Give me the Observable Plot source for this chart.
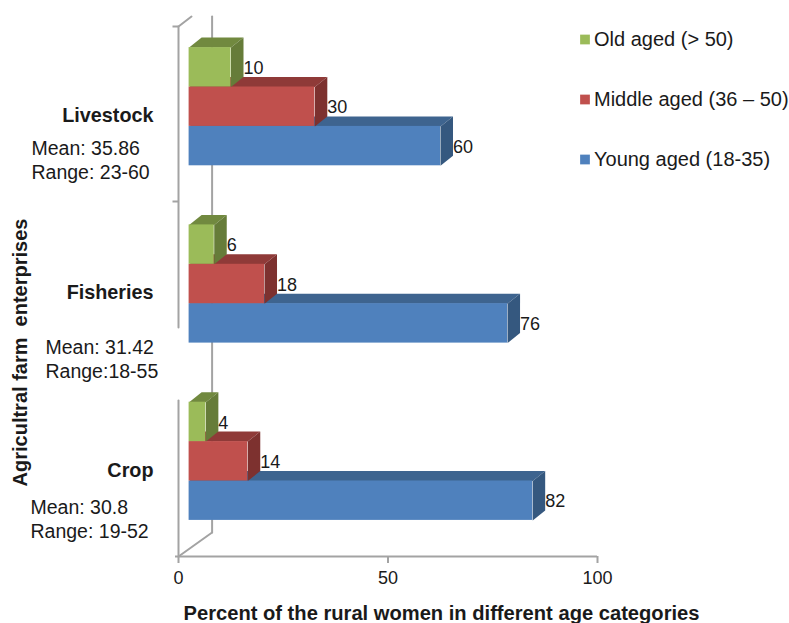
<!DOCTYPE html>
<html>
<head>
<meta charset="utf-8">
<script src="https://cdn.jsdelivr.net/npm/d3@7"></script>
<script src="https://cdn.jsdelivr.net/npm/@observablehq/plot@0.6"></script>
<style>
  html, body { margin: 0; padding: 0; background: #fff; }
  svg { display: block; }
  text { white-space: pre; }
</style>
</head>
<body>
<div id="chart"></div>
<script>
// Enterprises, bottom to top along the category axis
const categories = ["Crop", "Fisheries", "Livestock"];

// Percent of rural women per age category
const young = [82, 76, 60];
const middle = [14, 18, 30];
const old = [4, 6, 10];

// Summary notes printed under each enterprise name
const means = ["Mean: 30.8", "Mean: 31.42", "Mean: 35.86"];
const ranges = ["Range: 19-52", "Range:18-55", "Range: 23-60"];

const seriesNames = ["Young aged (18-35)", "Middle aged (36 \u2013 50)", "Old aged (> 50)"];
const xTicks = [0, 50, 100];

const font = "Liberation Sans, Arial, sans-serif";
const ink = "#1a1a1a";
const axisGrey = "#a3a3a3";

// Scale ranges of the drawing
const xPx = [178, 597];
const yPx = [460.8, 106.2];
const X = (p) => (p - xPx[0]) / (xPx[1] - xPx[0]) * 100;
const Y = (p) => (p - yPx[0]) / (yPx[1] - yPx[0]) * 2;

// Box extrusion and the inset of bars from the floor corner
const slot = 1 / 4.5;
const baseX = X(188.6);
const depthX = X(178 + 12.5);
const depthY = Y(yPx[0] - 10);

const series = [
  {name: seriesNames[0], values: young,  slotAt: 0, front: "#4f81bd", top: "#3e648f", side: "#35587f"},
  {name: seriesNames[1], values: middle, slotAt: 1, front: "#c0504d", top: "#8f3a38", side: "#7d312f"},
  {name: seriesNames[2], values: old,    slotAt: 2, front: "#9bbb59", top: "#71893f", side: "#667c39"}
];

function boxes(s) {
  const rects = s.values.map((v, i) => {
    const y1 = i - 1.5 * slot + s.slotAt * slot;
    return {x1: baseX, x2: baseX + v, y1, y2: y1 + slot, v, i};
  });
  const top = rects.flatMap((r) => [
    {id: r.i, x: r.x1, y: r.y2},
    {id: r.i, x: r.x1 + depthX, y: r.y2 + depthY},
    {id: r.i, x: r.x2 + depthX, y: r.y2 + depthY},
    {id: r.i, x: r.x2, y: r.y2}
  ]);
  const side = rects.flatMap((r) => [
    {id: r.i, x: r.x2, y: r.y1},
    {id: r.i, x: r.x2 + depthX, y: r.y1 + depthY},
    {id: r.i, x: r.x2 + depthX, y: r.y2 + depthY},
    {id: r.i, x: r.x2, y: r.y2}
  ]);
  return [
    Plot.line(top, {x: "x", y: "y", z: "id", fill: s.top, stroke: "none"}),
    Plot.line(side, {x: "x", y: "y", z: "id", fill: s.side, stroke: "none"}),
    Plot.rect(rects, {x1: "x1", x2: "x2", y1: "y1", y2: "y2", fill: s.front}),
    Plot.text(rects, {
      x: (r) => r.x2 + depthX,
      y: (r) => (r.y1 + r.y2) / 2,
      text: "v",
      textAnchor: "start",
      dy: 1,
      fontFamily: font,
      fontSize: 18,
      fill: ink
    })
  ];
}

const floorY = Y(556);
const wallTopY = Y(26);
const wallX = X(211.6);
const backFloorY = Y(532);
const clipTopY = Y(16);

const frameLine = (a, b) => Plot.line([a, b], {x: "x", y: "y", stroke: axisGrey, strokeWidth: 2});

const notes = [
  {i: 2, left: 31, mean: 148, range: 172},
  {i: 1, left: 45, mean: 347, range: 371},
  {i: 0, left: 30, mean: 507, range: 531}
];

const chart = Plot.plot({
  width: 789,
  height: 623,
  marginTop: 0,
  marginRight: 0,
  marginLeft: 0,
  marginBottom: 67,
  style: {background: "#fff", overflow: "visible"},
  x: {domain: [0, 100], range: xPx},
  y: {domain: [0, 2], range: yPx, axis: null},
  marks: [
    // Back wall edge and the floor diagonal
    frameLine({x: wallX, y: clipTopY}, {x: wallX, y: backFloorY}),
    frameLine({x: 0, y: floorY}, {x: wallX, y: backFloorY}),
    // Front category axis with its gap beside the Fisheries note
    frameLine({x: 0, y: wallTopY}, {x: 0, y: Y(327)}),
    frameLine({x: 0, y: Y(400)}, {x: 0, y: floorY}),
    frameLine({x: 0, y: wallTopY}, {x: X(191), y: clipTopY}),
    Plot.ruleY([wallTopY, Y(201)], {x1: X(172.5), x2: 0, stroke: axisGrey, strokeWidth: 2}),
    Plot.ruleY([floorY], {x1: X(175), x2: 100, stroke: axisGrey, strokeWidth: 2}),

    Plot.axisX({
      ticks: xTicks,
      tickSize: 7,
      tickPadding: 8,
      label: null,
      stroke: axisGrey,
      strokeWidth: 2,
      fontSize: 18,
      fontFamily: font,
      fill: ink
    }),

    ...series.flatMap(boxes),

    // Enterprise names
    Plot.text(categories, {
      x: 0, y: (d, i) => i, text: (d) => d, textAnchor: "end", dx: -25, dy: 9,
      fontFamily: font, fontSize: 19.8, fontWeight: "bold", fill: ink
    }),

    // Summary notes
    ...notes.flatMap((n) => [
      Plot.text([means[n.i]], {x: X(n.left), y: Y(n.mean), text: (d) => d, textAnchor: "start", fontFamily: font, fontSize: 19.5, fill: ink}),
      Plot.text([ranges[n.i]], {x: X(n.left), y: Y(n.range), text: (d) => d, textAnchor: "start", fontFamily: font, fontSize: 19.5, fill: ink})
    ]),

    // Legend
    Plot.dot([0, 1, 2], {
      x: X(584.5),
      y: (d) => Y([159, 99, 39][d]),
      symbol: "square",
      r: 5.5,
      fill: (d) => series[d].front
    }),
    Plot.text([0, 1, 2], {
      x: X(593.5),
      y: (d) => Y([159, 99, 39][d]),
      text: (d) => seriesNames[d],
      textAnchor: "start",
      fontFamily: font,
      fontSize: 20,
      fill: ink
    }),

    // Axis titles
    Plot.text(["Percent of the rural women in different age categories"], {
      x: X(441), y: Y(613), text: (d) => d,
      fontFamily: font, fontSize: 20.15, fontWeight: "bold", fill: ink
    }),
    Plot.text(["Agricultral farm  enterprises"], {
      x: X(20), y: Y(352), text: (d) => d, rotate: -90,
      fontFamily: font, fontSize: 20, fontWeight: "bold", fill: ink
    })
  ]
});

document.getElementById("chart").append(chart);
</script>
</body>
</html>
